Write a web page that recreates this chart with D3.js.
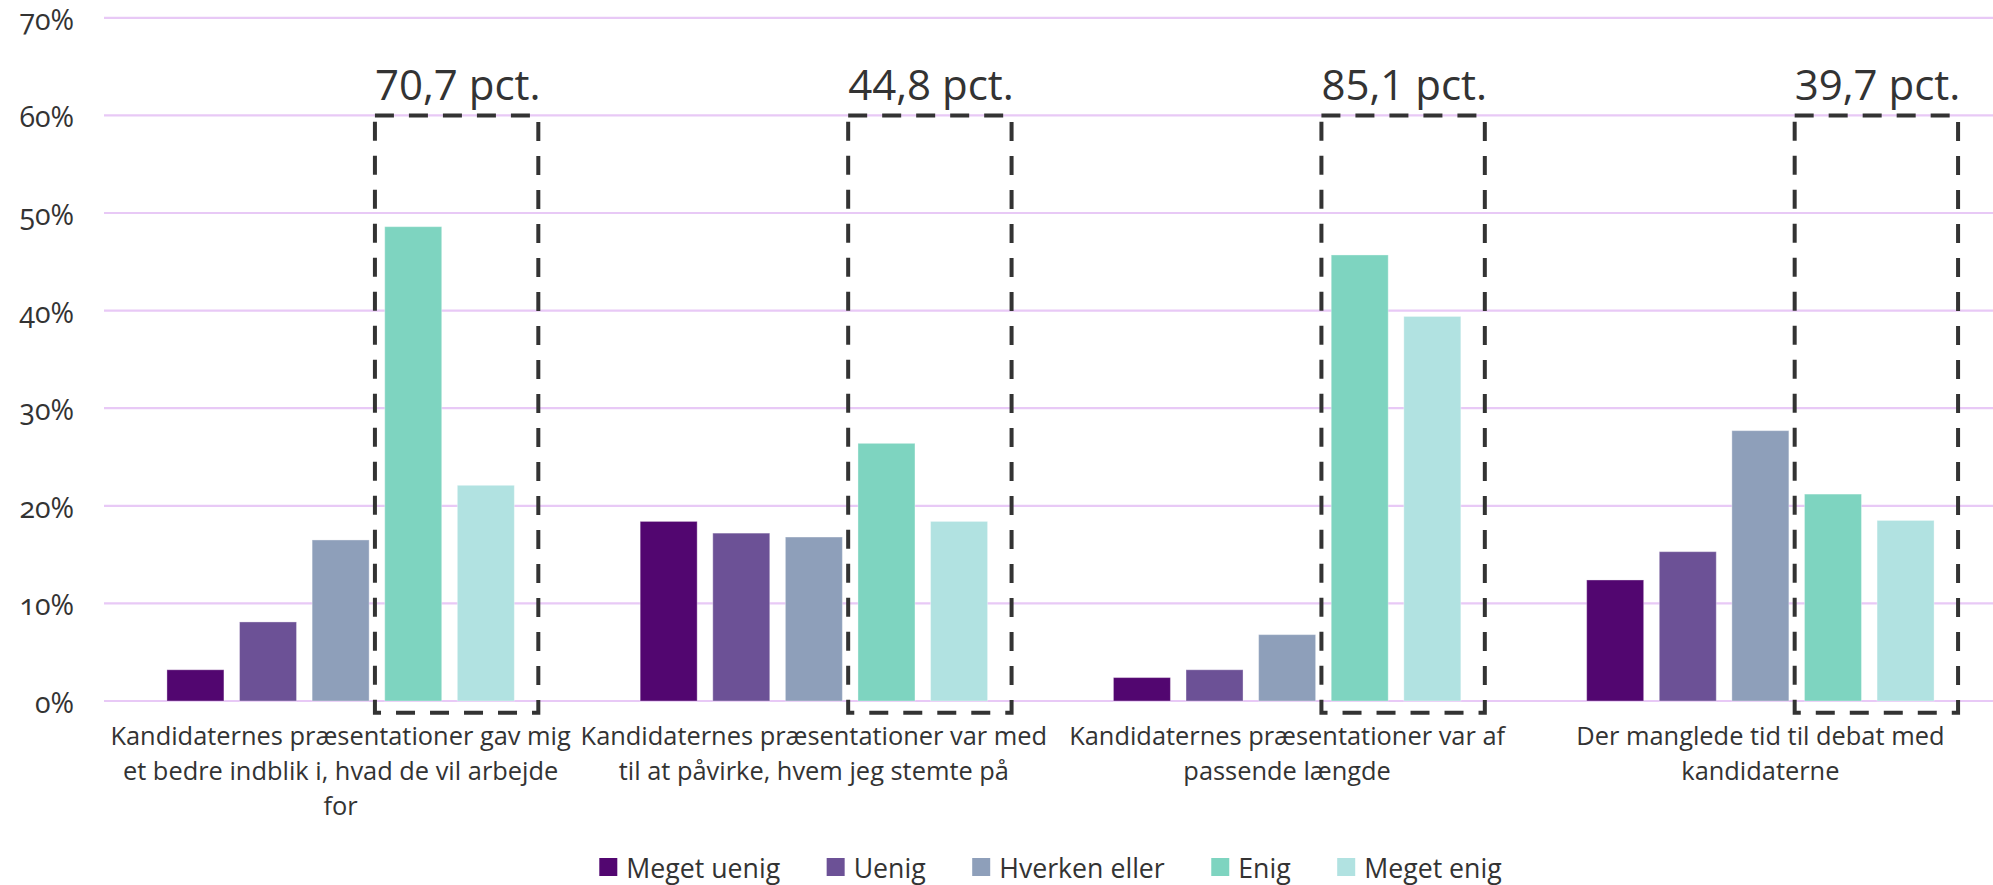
<!DOCTYPE html>
<html>
<head>
<meta charset="utf-8">
<script src="https://cdn.jsdelivr.net/npm/d3@7"></script>
<style>
  html, body { margin: 0; padding: 0; background: #ffffff; }
  svg { display: block; }
  text { font-family: "Open Sans", "Noto Sans", sans-serif; fill: #333333; }
</style>
</head>
<body>
<svg id="chart" width="1993" height="885"></svg>
<script>
// ---- data ----
const categories = [
  "Kandidaternes præsentationer gav mig et bedre indblik i, hvad de vil arbejde for",
  "Kandidaternes præsentationer var med til at påvirke, hvem jeg stemte på",
  "Kandidaternes præsentationer var af passende længde",
  "Der manglede tid til debat med kandidaterne"
];
const seriesNames = ["Meget uenig", "Uenig", "Hverken eller", "Enig", "Meget enig"];
const megetUenig = [3.2, 18.4, 2.4, 12.4];
const uenig      = [8.1, 17.2, 3.2, 15.3];
const hverken    = [16.5, 16.8, 6.8, 27.7];
const enig       = [48.6, 26.4, 45.7, 21.2];
const megetEnig  = [22.1, 18.4, 39.4, 18.5];
const agreeLabels = ["70,7 pct.", "44,8 pct.", "85,1 pct.", "39,7 pct."];
const yTicks = [0, 10, 20, 30, 40, 50, 60, 70];
const boxRange = [-1.2, 60];   // value span covered by the dashed highlight box

const seriesColors = ["#520670", "#6c5196", "#8e9fba", "#7ed4c0", "#b1e2e1"];
const seriesValues = [megetUenig, uenig, hverken, enig, megetEnig];

// ---- layout ----
const svg = d3.select("#chart");
const plotLeft = 104, plotRight = 1997, gridRight = 1993;

const y = d3.scaleLinear().domain([0, 70]).range([701, 17.8]);
const x0 = d3.scaleBand().domain(categories).range([plotLeft, plotRight]).padding(0);
const bw = x0.bandwidth();
const x1 = d3.scaleBand().domain(seriesNames)
  .range([bw / 2 - 181.5, bw / 2 + 181.5])
  .paddingInner(0.215).paddingOuter(0.1075);

// gridlines
svg.append("g").selectAll("line").data(yTicks).join("line")
  .attr("x1", plotLeft).attr("x2", gridRight)
  .attr("y1", d => y(d)).attr("y2", d => y(d))
  .attr("stroke", "#e8c9f6").attr("stroke-width", 2.2);

// y axis labels
svg.append("g").selectAll("text").data(yTicks).join("text")
  .attr("x", 74).attr("y", d => y(d) + 1)
  .attr("text-anchor", "end").attr("dominant-baseline", "central")
  .style("font-size", "28.5px")
  .style("font-variant-numeric", "oldstyle-nums")
  .text(d => d + "%");

// bars
const groups = svg.append("g").selectAll("g").data(categories).join("g")
  .attr("transform", d => `translate(${x0(d)},0)`);

groups.selectAll("rect").data((c, ci) => seriesNames.map((s, si) => ({ s, si, v: seriesValues[si][ci] })))
  .join("rect")
  .attr("x", d => x1(d.s))
  .attr("width", x1.bandwidth())
  .attr("y", d => y(d.v))
  .attr("height", d => y(0) - y(d.v))
  .attr("fill", d => seriesColors[d.si])
  .attr("stroke", "rgba(255,255,255,0.35)")
  .attr("stroke-width", 1);

// dashed highlight boxes around "Enig" + "Meget enig"
const gapMid = (x1("Hverken eller") + x1.bandwidth() + x1("Enig")) / 2 - 2;
const boxRight = x1("Meget enig") + x1.bandwidth() + 24;
groups.append("rect")
  .attr("x", gapMid)
  .attr("y", y(boxRange[1]))
  .attr("width", boxRight - gapMid)
  .attr("height", y(boxRange[0]) - y(boxRange[1]))
  .attr("fill", "none")
  .attr("stroke", "#333333")
  .attr("stroke-width", 4)
  .attr("stroke-dasharray", "19,15");

// highlight labels
groups.append("text")
  .attr("x", gapMid)
  .attr("y", 100)
  .style("font-size", "42px")
  .text((d, i) => agreeLabels[i]);

// category labels (wrapped)
function wrapLines(textSel, str, maxW) {
  const words = str.split(" ");
  const lines = [];
  let cur = "";
  const probe = textSel.append("tspan");
  words.forEach(w => {
    const test = cur ? cur + " " + w : w;
    probe.text(test);
    if (probe.node().getComputedTextLength() > maxW && cur) {
      lines.push(cur);
      cur = w;
    } else {
      cur = test;
    }
  });
  if (cur) lines.push(cur);
  probe.remove();
  return lines;
}

groups.each(function(c) {
  const t = d3.select(this).append("text")
    .attr("text-anchor", "middle")
    .style("font-size", "25.4px");
  const lines = wrapLines(t, c, bw - 6);
  lines.forEach((ln, i) => {
    t.append("tspan").attr("x", bw / 2).attr("y", 745 + i * 35).text(ln);
  });
});

// legend
const legend = svg.append("g");
const items = legend.selectAll("g").data(seriesNames).join("g");
items.append("rect")
  .attr("width", 18).attr("height", 18).attr("y", -9)
  .attr("fill", (d, i) => seriesColors[i]);
items.append("text")
  .attr("x", 27).attr("y", 0).attr("dominant-baseline", "central")
  .style("font-size", "26.7px")
  .text(d => d);
let cx = 0;
items.each(function() {
  const w = 27 + d3.select(this).select("text").node().getComputedTextLength();
  d3.select(this).attr("data-x", cx);
  cx += w + 46.5;
});
const totalW = cx - 46.5;
const startX = (plotLeft + plotRight) / 2 - totalW / 2;
items.attr("transform", function() {
  return `translate(${startX + (+d3.select(this).attr("data-x"))},867)`;
});
</script>
</body>
</html>
